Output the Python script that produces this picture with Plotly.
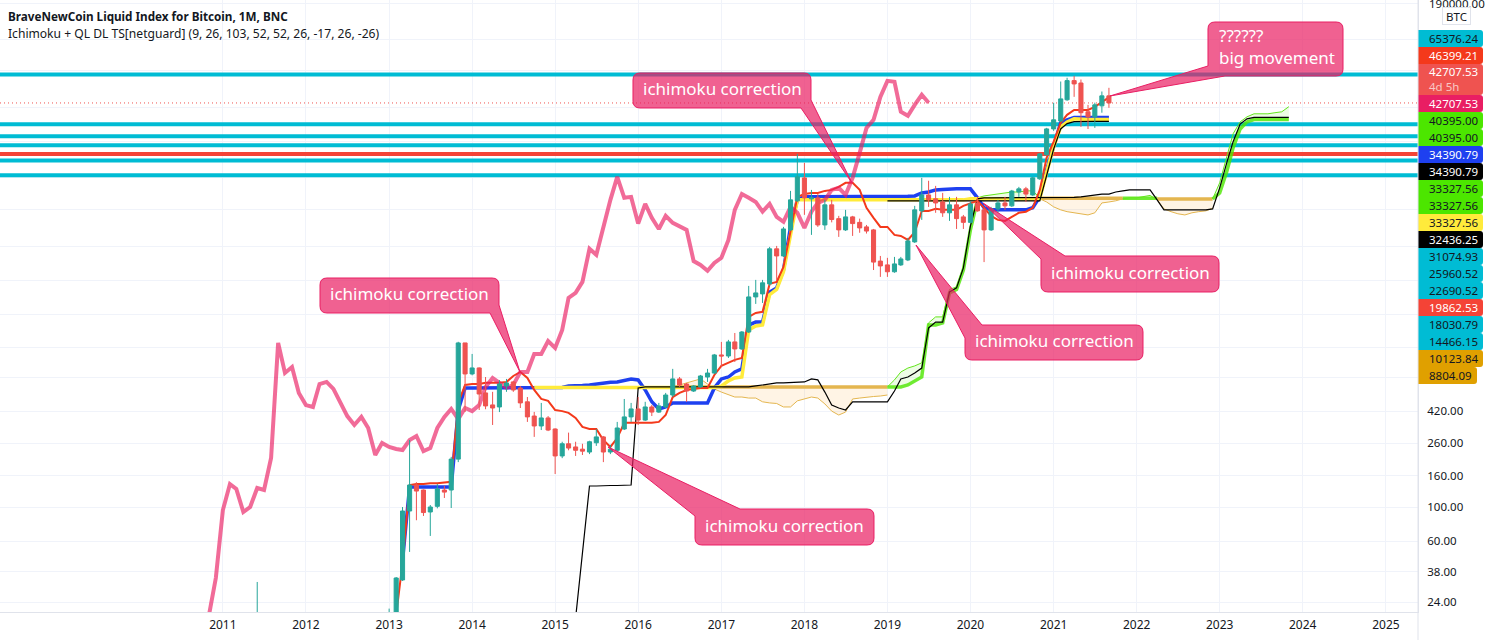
import pandas as pd
import plotly.graph_objects as go

# monthly BTC candles, 2013-01 .. 2021-09 (plus the lone wick of 2011-06 that reaches the pane)
candle_open = [
    9.6,
    13.5, 20, 33.5, 94.2, 139, 129, 92.8, 101, 129, 129, 205, 1170,
    735, 804, 553, 462, 448, 614, 652, 595, 484, 391, 337, 380,
    322, 215, 258, 246, 238, 228, 262, 286, 228, 234, 322, 386,
    435, 368, 448, 415, 448, 536, 682, 632, 569, 605, 702, 745,
    977, 962, 1188, 1069, 1378, 2332, 2440, 2835, 4795, 4310, 6370, 9850,
    13890, 10140, 10290, 6860, 9270, 7540, 6370, 7741, 7130, 6663, 6370, 3990,
    3770, 3400, 3770, 4060, 5320, 8470, 10760, 10150, 9680, 8230, 9270, 7741,
    7130, 9540, 8600, 6370, 8730, 9540, 9130, 11240, 11780, 10760, 13700, 19640,
    28940, 32600, 44800, 59700, 57600, 37400, 34683, 40900, 47500,
]
candle_high = [
    32.5,
    21.8, 35, 100, 273, 145, 130, 103, 141, 137, 212, 1190, 1170,
    992, 810, 702, 562, 670, 682, 660, 614, 520, 416, 476, 391,
    325, 266, 305, 266, 258, 270, 322, 290, 254, 358, 505, 476,
    520, 484, 462, 476, 553, 793, 702, 642, 622, 724, 793, 992,
    1188, 1225, 1358, 1398, 2750, 3010, 3010, 4936, 5010, 6663, 11430, 19900,
    17400, 11600, 10900, 9990, 9990, 7860, 8600, 7860, 7540, 6860, 6460, 4310,
    4190, 4249, 4249, 5650, 9130, 13900, 13300, 12320, 11090, 10449, 10449, 7970,
    9680, 10449, 8870, 8993, 9990, 10449, 11600, 12139, 12139, 14103, 20150, 29400,
    42800, 58900, 62300, 64100, 60700, 41500, 42900, 50700, 53600,
]
candle_low = [
    9,
    13, 19, 33, 51, 82, 87.4, 64.8, 98, 114.5, 98.5, 196, 415.7,
    720, 428, 433, 342, 415, 562, 562, 441, 358, 286, 317, 312,
    164, 208, 234, 215, 218, 221, 250, 196, 221, 231, 317, 358,
    342, 363, 391, 410, 441, 520, 605, 484, 561, 596, 652, 735,
    816, 934, 879, 1054, 1358, 2100, 2130, 2750, 3010, 4249, 6270, 9700,
    7980, 5910, 6663, 6370, 7130, 5735, 6270, 5820, 6100, 6030, 3490, 3148,
    3148, 3350, 3710, 3990, 5240, 7400, 8990, 8230, 7741, 7290, 6460, 6460,
    7030, 8370, 3930, 6270, 8230, 8600, 8993, 10449, 9680, 10600, 13480, 19320,
    28100, 32150, 44100, 46815, 29853, 28900, 29400, 36900, 39700,
]
candle_close = [
    16,
    20, 34.5, 94.2, 139, 127, 92, 100, 131, 125, 205, 1170, 735,
    804, 544, 455, 441, 632, 642, 578, 476, 386, 337, 380, 317,
    215, 258, 242, 234, 231, 266, 286, 228, 238, 327, 386, 435,
    368, 448, 415, 455, 536, 682, 622, 569, 614, 713, 745, 977,
    962, 1188, 1069, 1378, 2332, 2476, 2880, 4795, 4310, 6460, 9990, 14103,
    10290, 10290, 6860, 9270, 7440, 6370, 7741, 7000, 6560, 6260, 3930, 3710,
    3400, 3825, 4120, 5400, 8600, 10760, 9990, 9540, 8230, 9270, 7540, 7130,
    9400, 8470, 6370, 8730, 9540, 9130, 11400, 11780, 10900, 13900, 19900, 28940,
    33160, 45400, 59700, 56800, 36900, 34683, 41500, 47500, 42707.53,
]

# pink copy of the price, 2010-11 .. 2019-07
pink_line = [
    19.8, 34.5,
    95.6, 141, 131, 92.8, 100, 133, 129, 208.6, 1170, 746, 816, 553,
    461, 448, 632, 652, 587, 483, 391, 342, 386, 327, 218, 261,
    246, 238.7, 235, 273, 290, 231, 242, 327, 386, 435, 374, 441,
    421, 461, 605, 692, 643, 596, 623, 757, 757, 992, 992, 1202,
    1086, 1422, 2298, 2476, 2920, 4795, 4380, 6663, 9990, 14103, 10300, 10449,
    7000, 9400, 7630, 6460, 7860, 7075, 6763, 6370, 3990, 3770, 3450, 3880,
    4190, 5480, 8600, 10900, 10300, 9680, 8370, 9400, 7741, 7190, 8993, 8230,
    6565, 8370, 9540, 9990, 11600, 11960, 10760, 13900, 20217, 29400, 33160, 46815,
    59500, 58600, 37400, 35200, 41500, 48300, 42800,
]

# 2013-02 .. 2021-09
red_line = [
    19.8, 43.2, 139, 141, 141, 143, 143, 145, 146, 476, 623,
    632, 632, 643, 643, 643, 652, 713, 757, 692, 578, 505, 491,
    428, 421, 410, 380, 332, 322, 322, 273, 246, 281, 353, 353,
    353, 353, 353, 358, 397, 520, 553, 578, 587, 596, 596, 724,
    829, 868, 907, 934, 1728, 1835, 1864, 2835, 2920, 3657, 6090, 10449,
    10900, 11090, 11090, 11430, 11600, 12139, 12900, 12900, 11600, 8870, 7630, 6663,
    6663, 5910, 5820, 5480, 6150, 8470, 8470, 8730, 8600, 8600, 8600, 9130,
    9540, 9850, 8870, 7860, 7400, 7290, 7741, 8230, 8370, 8870, 11600, 18750,
    23900, 31800, 35750, 38500, 38500, 38500, 40295, 43400, 46399.21,
]
# 2013-03 .. 2021-09
blue_line = (
    [45] + [135] * 7 + [428, 596]
    + [596] * 12
    + [596, 600, 614, 614, 618, 623, 633, 643, 648, 652, 663, 682]
    + [672, 578, 484, 435, 448, 476, 476, 476, 476, 476, 476, 596]
    + [682, 702, 757, 793, 1530, 1600, 1600, 2510, 2670, 3490, 6663, 9990]
    + [10449] * 12
    + [10449, 10449, 10449, 10530, 10600, 11090, 11240, 11600, 11690, 11780, 11780, 11780]
    + [11780, 10300, 8870, 8600, 8600, 8600, 8600, 8600, 8600, 8870, 10449, 15640]
    + [22117, 31800, 33160] + [34390.79] * 6
)
# 2014-10 .. 2021-09
yellow_line = (
    [600] * 27
    + [612, 663, 692, 702, 1422, 1510, 1530, 2410, 2610, 3400, 5910, 9990]
    + [9990] * 24
    + [10150] * 11 + [15050]
    + [22117, 29853, 32150, 33660] + [33327.56] * 5
)
# 2015-04 .. 2023-11
black_line = (
    [18.9, 52.5, 137, 137, 138, 138, 138, 139, 139]
    + [596] + [605] * 11
    + [605] * 5 + [614, 623, 632, 642, 642, 647, 652]
    + [652, 682, 672, 560, 461, 441, 428, 484, 484, 484, 484, 484]
    + [484, 569, 682, 702, 745, 803, 1465, 1600, 1600, 2510, 2670, 3600]
    + [6763, 10150] + [10300] * 10
    + [10300, 10300, 10300, 10380, 10449, 10600, 10760, 10900, 10900, 11240, 11430, 11600]
    + [11600, 11600, 11600, 9990, 8600, 8600, 8600, 8600, 8600, 8600, 8600, 8730]
    + [11960, 17400, 23900, 31100, 33660] + [34390.79] * 6
)
# 2019-01 .. 2021-09
black_line2 = [9850] * 23 + [14400, 21420, 28940, 31340, 32300] + [32436.25] * 5

# cloud, orange parts: thick edge and thin edge
gold_a = [605] * 32  # 2016-06 .. 2019-01
thin_a = [
    605, 623, 643, 663, 682, 632, 587,
    560, 536, 520, 520, 512, 512, 484, 476, 472, 448, 448, 491,
    505, 520, 512, 469, 421, 397, 415, 505, 512, 520, 524, 528,
    536,
]
gold_b = [10230] * 13  # 2020-11 .. 2021-11
thin_b = [10150, 9680, 8993, 8600, 8370, 8230, 8110, 7970, 8230, 9540, 9680, 9850, 10150]
gold_c = [10123.84] * 9  # 2022-04 .. 2022-12
thin_c = [9990, 8730, 8370, 8110, 7970, 8230, 8370, 8470, 8804.09]

# cloud, green parts
green_a = [605, 605, 605, 623, 663, 702, 1530, 1530, 1580, 2476, 2610, 3490, 6370, 9990] + [10150] * 9  # 2019-01 .. 2020-11
green_thin_a = [
    605, 672, 757, 803, 829, 868, 1580, 1728, 1728, 2610, 2709, 3710,
    6763, 10300, 10600, 10760, 10900, 11090, 11240, 11240, 11430, 11430, 10300,
]
green_b = [10230] * 6  # 2021-11 .. 2022-04
green_thin_b = [10150, 10300, 10300, 10449, 10680, 9990]
green_c = [10123, 11090, 15200, 21800, 28940, 32150] + [33327.56] * 6  # 2022-12 .. 2023-11
green_thin_c = [10123, 12900, 19037, 26900, 32150, 34683, 36300, 36300, 36300, 36900, 37400, 40395]

cyan_levels = [65376.24, 31074.93, 25960.52, 22690.52, 18030.79, 14466.15]
red_level = 19862.53
last_price = 42707.53

year_ticks = list(range(2011, 2026))
grid_ticks = [24, 38, 60, 100, 160, 260, 420, 700, 1100, 1800, 3000, 5000, 8600,
              14000, 24000, 40000, 70000, 110000, 190000]
price_ticks = [24, 38, 60, 100, 160, 260, 420]

# text, background, text colour, height
price_labels = [
    ("65376.24", "#00bcd4", "#131722", 17),
    ("46399.21", "#f4391b", "#ffffff", 17),
    ("42707.53<br><span style='color:#f8c8c6'>4d 5h</span>", "#ef5350", "#ffffff", 31),
    ("42707.53", "#e91e63", "#ffffff", 17),
    ("40395.00", "#4ce600", "#131722", 17),
    ("40395.00", "#4ce600", "#131722", 17),
    ("34390.79", "#1e40f0", "#ffffff", 17),
    ("34390.79", "#000000", "#ffffff", 17),
    ("33327.56", "#4ce600", "#131722", 17),
    ("33327.56", "#4ce600", "#131722", 17),
    ("33327.56", "#ffeb3b", "#131722", 17),
    ("32436.25", "#000000", "#ffffff", 17),
    ("31074.93", "#00bcd4", "#131722", 17),
    ("25960.52", "#00bcd4", "#131722", 17),
    ("22690.52", "#00bcd4", "#131722", 17),
    ("19862.53", "#f44336", "#ffffff", 17),
    ("18030.79", "#00bcd4", "#131722", 17),
    ("14466.15", "#00bcd4", "#131722", 17),
    ("10123.84", "#e0a000", "#131722", 17),
    ("8804.09", "#e0a000", "#131722", 17),
]

# text, box x0 y0 x1 y1, corner the tail leaves from, tail base a, tail base b, tip (pixels)
callouts = [
    ("ichimoku correction", 320, 278, 499, 313, "br", 305, 490, (520, 372)),
    ("ichimoku correction", 633, 73, 811, 108, "br", 100, 801, (852, 183)),
    ("ichimoku correction", 695, 509, 874, 545, "tl", 740, 516, (608, 447)),
    ("ichimoku correction", 1041, 256, 1219, 292, "tl", 1065, 259, (983, 203)),
    ("ichimoku correction", 965, 325, 1143, 360, "tl", 982, 338, (916, 245)),
    ("??????<br>big movement", 1208, 22, 1343, 76, "bl", 1225, 66, (1110, 96)),
]

FONT = "Noto Sans"
WIDTH, HEIGHT = 1494, 640
PLOT_W, PLOT_H = 1418, 612
X_RANGE = ["2008-04-26", "2025-05-22"]
Y_RANGE = [1.3164, 5.3008]

CYAN = "#00bcd4"
GOLD = "#e4b64f"
GREEN = "rgba(76,230,0,0.8)"
GREEN_THIN = "#63e61c"
PINK_FILL = "rgba(233,30,99,0.7)"


def months(start, values):
    return pd.date_range(start, periods=len(values), freq="MS")


def fx(x):
    return x / PLOT_W


def fy(y):
    return 1 - y / PLOT_H


def pt(cmd, x, y):
    return f"{cmd} {fx(x):.5f} {fy(y):.5f} "


def box_path(x0, y0, x1, y1, r=7, corner=None, a=None, b=None, tip=None):
    # rounded box, one corner is swapped for the callout tail
    d = ""
    if corner == "tl":
        d += pt("M", a, y0)
    else:
        d += pt("M", x0 + r, y0)
    d += pt("L", x1 - r, y0)
    d += pt("Q", x1, y0) + f"{fx(x1):.5f} {fy(y0 + r):.5f} "
    if corner == "br":
        d += pt("L", x1, a) + pt("L", *tip) + pt("L", b, y1)
    else:
        d += pt("L", x1, y1 - r)
        d += pt("Q", x1, y1) + f"{fx(x1 - r):.5f} {fy(y1):.5f} "
    if corner == "bl":
        d += pt("L", a, y1) + pt("L", *tip) + pt("L", x0, b)
    else:
        d += pt("L", x0 + r, y1)
        d += pt("Q", x0, y1) + f"{fx(x0):.5f} {fy(y1 - r):.5f} "
    if corner == "tl":
        d += pt("L", x0, b) + pt("L", *tip)
    else:
        d += pt("L", x0, y0 + r)
        d += pt("Q", x0, y0) + f"{fx(x0 + r):.5f} {fy(y0):.5f} "
    return d + "Z"


def label_path(x0, y0, x1, y1, r=3):
    # price tag, only the right corners are round
    d = pt("M", x0, y0) + pt("L", x1 - r, y0)
    d += pt("Q", x1, y0) + f"{fx(x1):.5f} {fy(y0 + r):.5f} "
    d += pt("L", x1, y1 - r)
    d += pt("Q", x1, y1) + f"{fx(x1 - r):.5f} {fy(y1):.5f} "
    d += pt("L", x0, y1)
    return d + "Z"


def line(x, y, color, width, **kw):
    return go.Scatter(x=x, y=y, mode="lines", line=dict(color=color, width=width),
                      hoverinfo="skip", showlegend=False, **kw)


fig = go.Figure()

# horizontal levels
for lv in cyan_levels:
    fig.add_trace(line(X_RANGE, [lv, lv], CYAN, 4))
fig.add_trace(line(X_RANGE, [red_level, red_level], "#f44336", 4))
fig.add_trace(go.Scatter(x=X_RANGE, y=[last_price, last_price], mode="lines",
                         line=dict(color="#ef5350", width=1, dash="1px,3px"),
                         hoverinfo="skip", showlegend=False))

# cloud
for start, thick, thin in [("2016-06-01", gold_a, thin_a),
                           ("2020-11-01", gold_b, thin_b),
                           ("2022-04-01", gold_c, thin_c)]:
    dates = months(start, thick)
    fig.add_trace(line(dates, thick, GOLD, 3.5))
    fig.add_trace(line(dates, thin, GOLD, 1, fill="tonexty", fillcolor="rgba(255,152,0,0.1)"))
for start, thick, thin in [("2019-01-01", green_a, green_thin_a),
                           ("2021-11-01", green_b, green_thin_b),
                           ("2022-12-01", green_c, green_thin_c)]:
    dates = months(start, thick)
    fig.add_trace(line(dates, thick, GREEN, 3.5))
    fig.add_trace(line(dates, thin, GREEN_THIN, 1, fill="tonexty", fillcolor="rgba(76,230,0,0.1)"))

fig.add_trace(line(months("2013-03-01", blue_line), blue_line, "#1e40f0", 3.5))
fig.add_trace(line(months("2014-10-01", yellow_line), yellow_line, "#ffeb3b", 3.5))
fig.add_trace(line(months("2015-04-01", black_line), black_line, "#000000", 1.2))
fig.add_trace(line(months("2019-01-01", black_line2), black_line2, "#000000", 1.2))
fig.add_trace(line(months("2013-02-01", red_line), red_line, "#f4391b", 2))
fig.add_trace(line(months("2010-11-01", pink_line), pink_line, "rgba(233,30,99,0.66)", 4))

# candles go on an overlaid axis, otherwise scatter would paint over them
candle_dates = ["2011-06-01"] + [d.strftime("%Y-%m-%d") for d in
                                 pd.date_range("2013-01-01", periods=len(candle_open) - 1, freq="MS")]
fig.add_trace(go.Candlestick(
    x=candle_dates, open=candle_open, high=candle_high, low=candle_low, close=candle_close,
    yaxis="y2", hoverinfo="skip", showlegend=False, whiskerwidth=0,
    increasing=dict(line=dict(color="#26a69a", width=1), fillcolor="#26a69a"),
    decreasing=dict(line=dict(color="#ef5350", width=1), fillcolor="#ef5350"),
))

shapes = []
annotations = []

# callouts
for text, x0, y0, x1, y1, corner, a, b, tip in callouts:
    shapes.append(dict(type="path", xref="paper", yref="paper", layer="above",
                       path=box_path(x0, y0, x1, y1, corner=corner, a=a, b=b, tip=tip),
                       fillcolor=PINK_FILL, line=dict(color="#e91e63", width=1)))
    two_lines = "<br>" in text
    annotations.append(dict(xref="paper", yref="paper",
                            x=fx(x0 + 9 if two_lines else (x0 + x1) / 2), y=fy((y0 + y1) / 2 - 2),
                            text=text, showarrow=False, align="left",
                            xanchor="left" if two_lines else "center", yanchor="middle",
                            font=dict(family=FONT, size=17, color="#ffffff")))

# top price of the scale is cut by the page edge, plotly would drop the tick
annotations.append(dict(xref="paper", yref="paper", x=fx(1427), y=fy(4), text="190000.00",
                        showarrow=False, xanchor="left", yanchor="middle",
                        font=dict(family=FONT, size=11.5, color="#131722")))

# price tags
top = 30
for text, bg, fg, h in price_labels:
    right = 1477 if text == "8804.09" else 1483
    shapes.append(dict(type="path", xref="paper", yref="paper", layer="above",
                       path=label_path(1418, top, right, top + h),
                       fillcolor=bg, line=dict(width=0)))
    annotations.append(dict(xref="paper", yref="paper", x=fx(1427), y=fy(top + h / 2), text=text,
                            showarrow=False, align="left", xanchor="left", yanchor="middle",
                            font=dict(family=FONT, size=11.5, color=fg)))
    top += h

# currency button
annotations.append(dict(xref="paper", yref="paper", x=fx(1456.5), y=fy(16), text="BTC",
                        showarrow=False, xanchor="center", yanchor="middle", bgcolor="#ffffff",
                        bordercolor="#e0e3eb", borderwidth=1, borderpad=1, width=25, height=14,
                        font=dict(family=FONT, size=11.5, color="#131722")))

# axis separator runs down through the time scale
shapes.append(dict(type="line", xref="paper", yref="paper", x0=1, x1=1, y0=fy(HEIGHT), y1=1,
                   line=dict(color="#e0e3eb", width=1)))

# titles
annotations.append(dict(xref="paper", yref="paper", x=fx(6), y=fy(16),
                        text="<b>BraveNewCoin Liquid Index for Bitcoin, 1M, BNC</b>",
                        showarrow=False, xanchor="left", yanchor="middle",
                        font=dict(family=FONT, size=11.7, color="#131722")))
annotations.append(dict(xref="paper", yref="paper", x=fx(6), y=fy(33),
                        text="Ichimoku + QL DL TS[netguard] (9, 26, 103, 52, 52, 26, -17, 26, -26)",
                        showarrow=False, xanchor="left", yanchor="middle",
                        font=dict(family=FONT, size=12.1, color="#131722")))

fig.update_layout(
    width=WIDTH, height=HEIGHT,
    margin=dict(l=0, r=WIDTH - PLOT_W, t=0, b=HEIGHT - PLOT_H),
    plot_bgcolor="#ffffff", paper_bgcolor="#ffffff",
    font=dict(family=FONT, size=12, color="#131722"),
    showlegend=False, hovermode=False,
    boxgap=0.2, boxgroupgap=0.2,
    shapes=shapes, annotations=annotations,
    xaxis=dict(
        type="date", range=X_RANGE, rangeslider=dict(visible=False),
        tickvals=[f"{y}-01-01" for y in year_ticks], ticktext=[str(y) for y in year_ticks],
        showgrid=True, gridcolor="#f0f3fa", gridwidth=1,
        showline=True, linecolor="#e0e3eb", linewidth=1,
        ticks="outside", ticklen=2, tickcolor="rgba(0,0,0,0)", zeroline=False,
    ),
    # grid sits on the base axis, the printed prices on the overlay
    yaxis=dict(
        type="log", range=Y_RANGE, side="right",
        tickvals=grid_ticks, showticklabels=False,
        showgrid=True, gridcolor="#f0f3fa", gridwidth=1,
        showline=True, linecolor="#e0e3eb", linewidth=1, zeroline=False,
    ),
    yaxis2=dict(
        type="log", range=Y_RANGE, overlaying="y", side="right",
        tickvals=price_ticks, ticktext=[f"{v:.2f}" for v in price_ticks],
        showgrid=False, showline=False, zeroline=False,
        ticks="outside", ticklen=6, tickcolor="rgba(0,0,0,0)",
        tickfont=dict(family=FONT, size=11.5, color="#131722"),
    ),
)

fig.write_html("out.html", config={"displayModeBar": False},
               post_script="document.body.style.margin='0';")
